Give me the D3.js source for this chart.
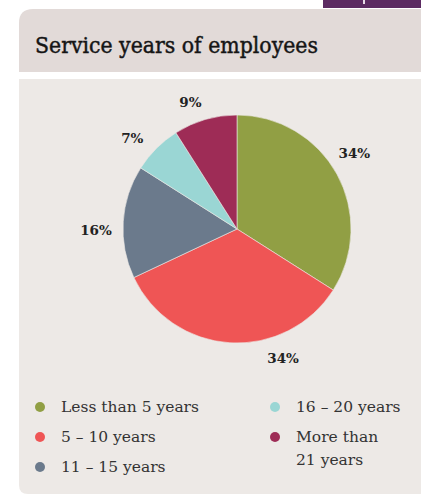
<!DOCTYPE html>
<html><head><meta charset="utf-8">
<script src="https://cdn.jsdelivr.net/npm/d3@7"></script>
<style>html,body{margin:0;padding:0;background:#fff;}svg{display:block;}</style>
</head><body>
<script>
const title = "Service years of employees";
const categories = ["Less than 5 years", "5 – 10 years", "11 – 15 years", "16 – 20 years", "More than 21 years"];
const values = [34, 34, 16, 7, 9];
const colors = ["#919f44", "#ef5555", "#6b7a8c", "#9ad6d4", "#9e2c56"];
const legendLines = [["Less than 5 years"], ["5 – 10 years"], ["11 – 15 years"], ["16 – 20 years"], ["More than", "21 years"]];

const W = 421, H = 497;
const svg = d3.select("body").append("svg").attr("width", W).attr("height", H);

// top tab
svg.append("rect").attr("x", 323).attr("y", 0).attr("width", 98).attr("height", 8).attr("fill", "#5c2b62");
svg.append("rect").attr("x", 363).attr("y", 0).attr("width", 2).attr("height", 4).attr("fill", "#e8dce8");

// header panel with rounded top-left
const r0 = 14;
svg.append("path").attr("fill", "#e2dad8")
  .attr("d", `M19,${72} L19,${9 + r0} Q19,9 ${19 + r0},9 L421,9 L421,72 Z`);
svg.append("text").attr("x", 35).attr("y", 53)
  .attr("font-family", "'DejaVu Serif', serif").attr("font-size", 22.5)
  .attr("fill", "#151515").attr("stroke", "#151515").attr("stroke-width", 0.45)
  .text(title)
  .attr("textLength", 283).attr("lengthAdjust", "spacingAndGlyphs");

// content panel with rounded bottom-left
const r1 = 9;
svg.append("path").attr("fill", "#ede9e6")
  .attr("d", `M19,79 L421,79 L421,494 L${19 + r1},494 Q19,494 19,${494 - r1} Z`);

// pie
const cx = 237, cy = 229, R = 114;
const pie = d3.pie().sort(null).value(d => d);
const arcs = pie(values);
const arc = d3.arc().innerRadius(0).outerRadius(R);
const g = svg.append("g").attr("transform", `translate(${cx},${cy})`);
g.selectAll("path").data(arcs).join("path")
  .attr("d", arc).attr("fill", (d, i) => colors[i])
  .attr("stroke", "#ede9e6").attr("stroke-width", 0.6);

// labels
const maxY = 129, rot = -4 * Math.PI / 180, LRc = 137;
g.selectAll("text.lab").data(arcs).join("text").attr("class", "lab")
  .each(function (d) {
    const a = (d.startAngle + d.endAngle) / 2 + rot;
    const LR = R + 18 + 9 * Math.abs(Math.sin(a));
    let x = LR * Math.sin(a), y = -LR * Math.cos(a);
    if (y > maxY) { y = maxY; x = Math.sqrt(LRc * LRc - y * y); }
    d3.select(this).attr("x", x).attr("y", y);
  })
  .attr("text-anchor", "middle").attr("dy", "0.35em")
  .attr("font-family", "'DejaVu Serif', serif").attr("font-weight", "bold")
  .attr("font-size", 13.5).attr("fill", "#222")
  .text(d => d.data + "%");

// legend
const legX = [40, 275], rowY = [407, 437, 467];
const pos = [[0, 0], [0, 1], [0, 2], [1, 0], [1, 1]];
const leg = svg.append("g");
categories.forEach((c, i) => {
  const [col, row] = pos[i];
  const x = legX[col], y = rowY[row];
  leg.append("circle").attr("cx", x).attr("cy", y).attr("r", 5).attr("fill", colors[i]);
  const t = leg.append("text").attr("x", x + 21).attr("y", y)
    .attr("font-family", "'DejaVu Serif', serif").attr("font-size", 15.5).attr("fill", "#333");
  legendLines[i].forEach((ln, k) => {
    t.append("tspan").attr("x", x + 21).attr("dy", k === 0 ? "0.35em" : 23).text(ln);
  });
});
</script>
</body></html>
